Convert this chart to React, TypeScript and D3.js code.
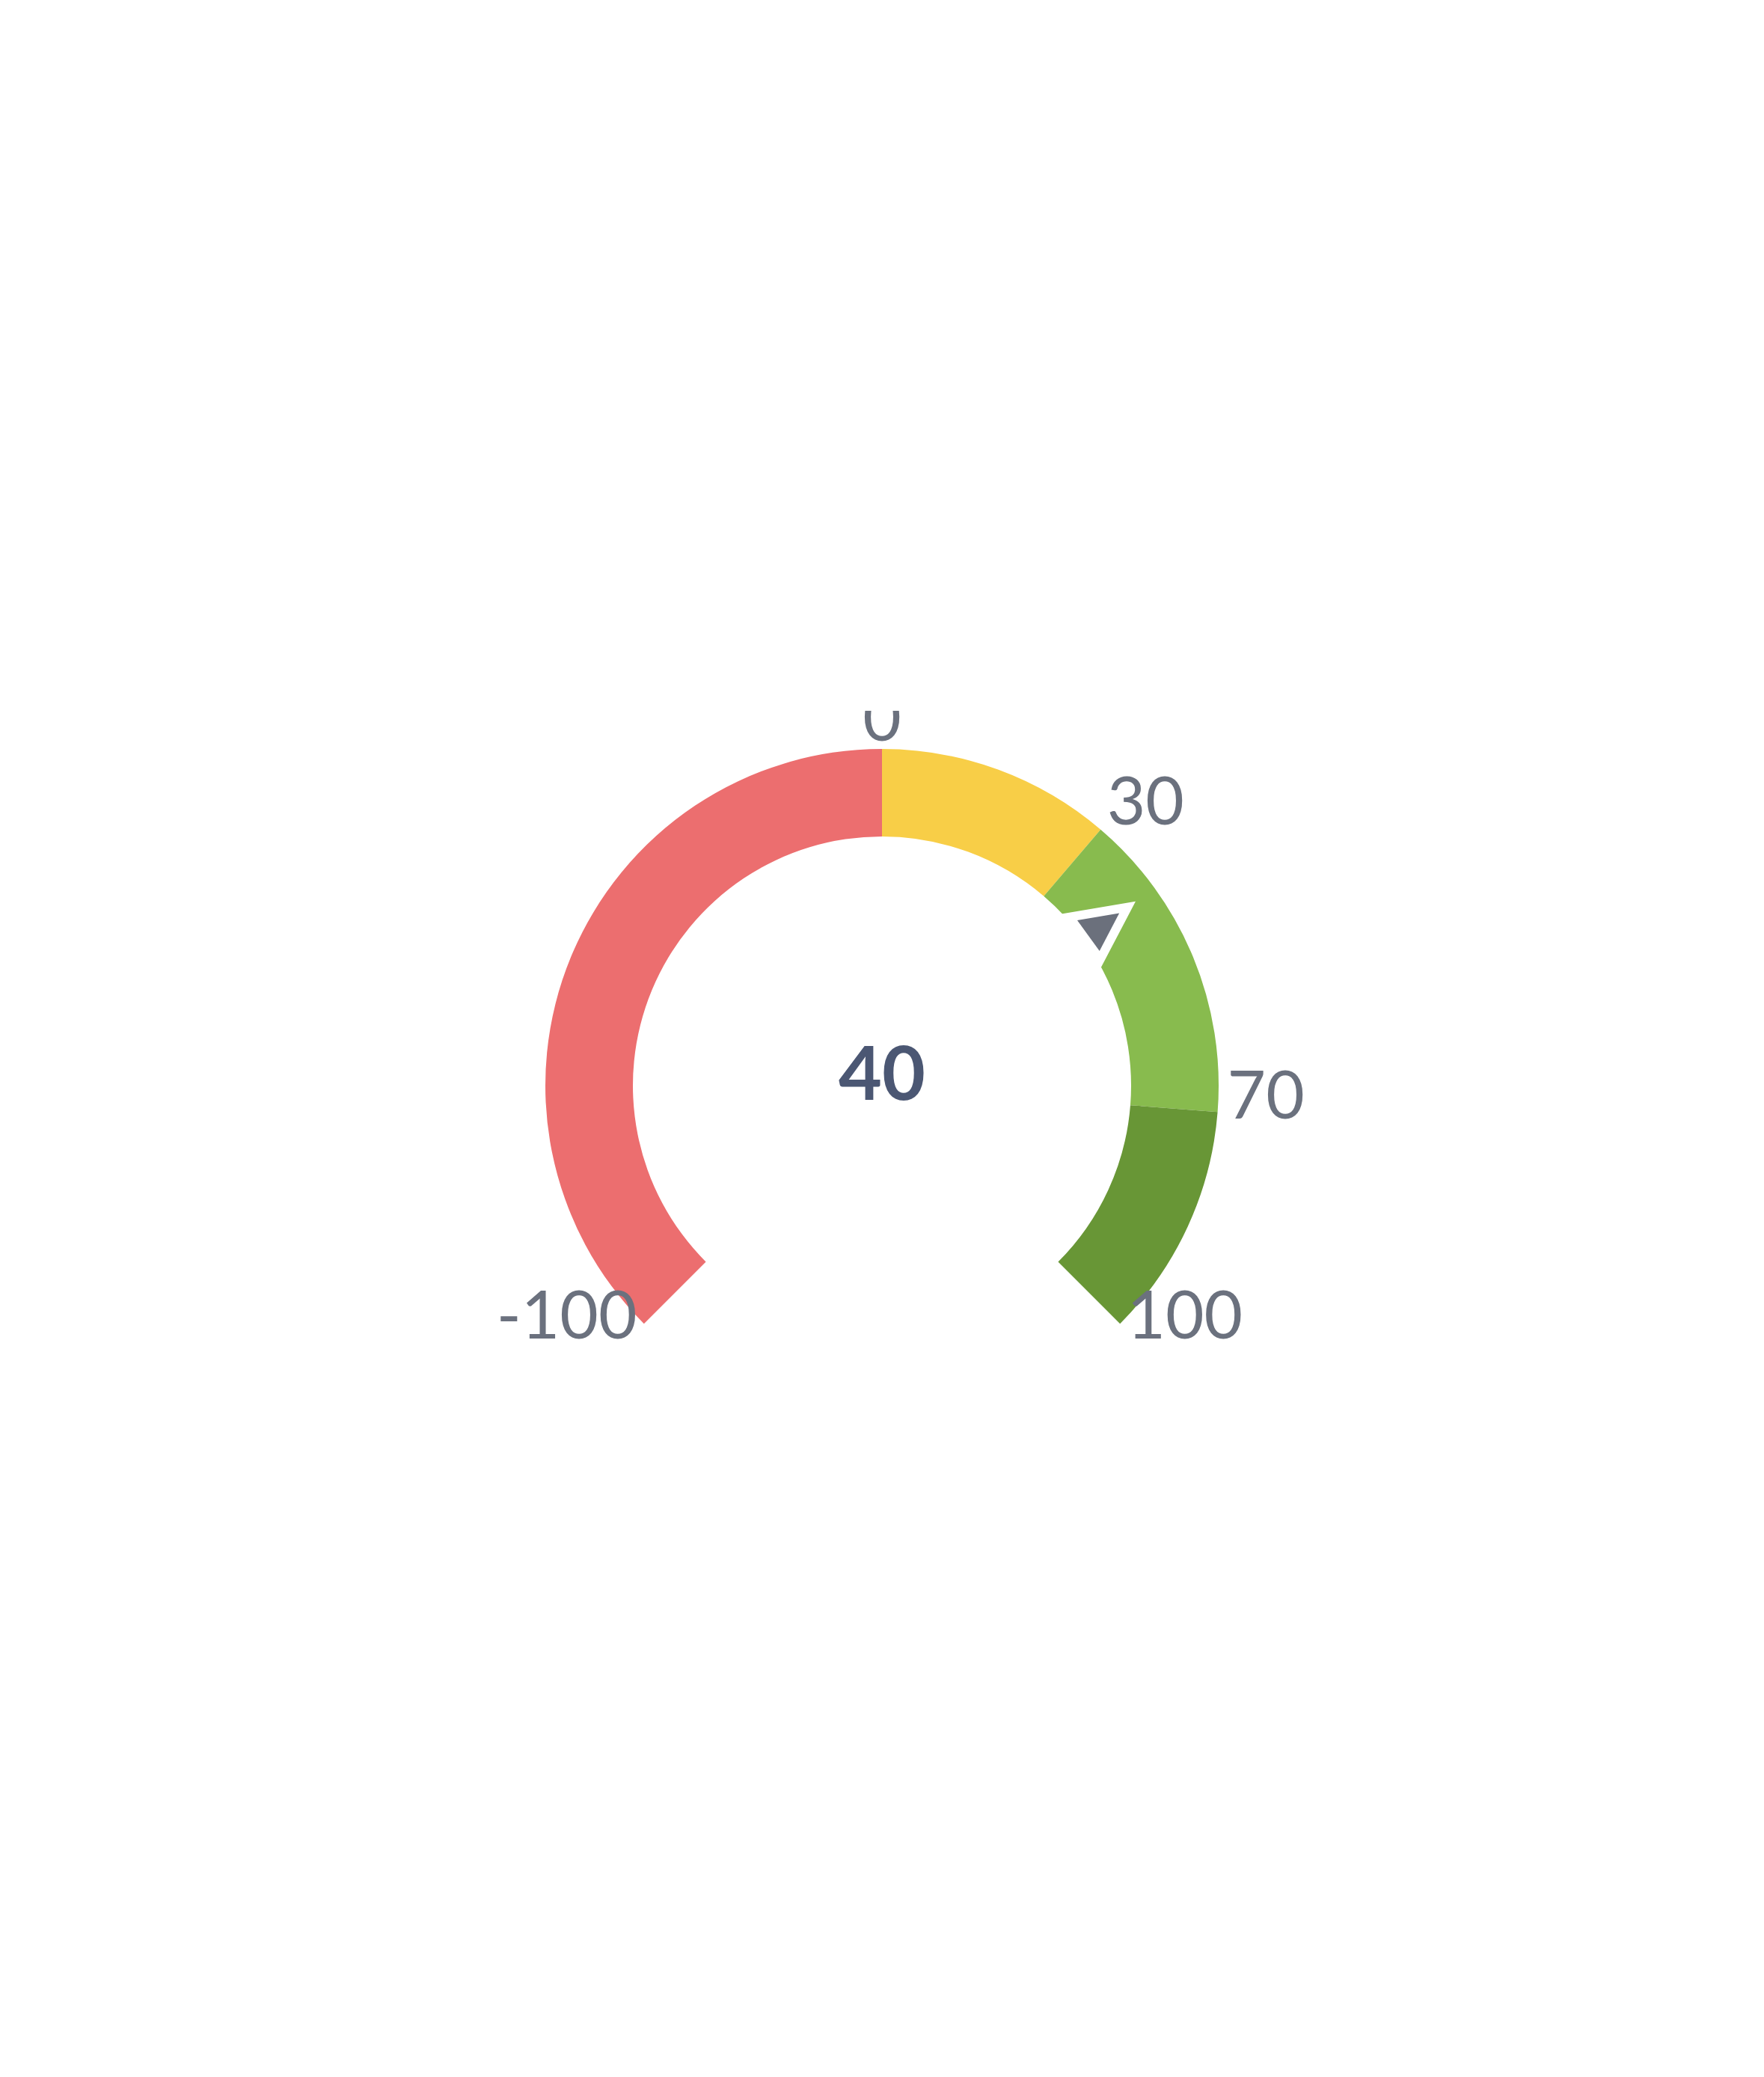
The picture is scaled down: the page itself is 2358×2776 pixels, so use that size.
import React from 'react';
import * as d3 from 'd3';

// gauge data
const bandFrom = [-100, 0, 30, 70];
const bandTo = [0, 30, 70, 100];
const tickValues = [-100, 0, 30, 70, 100];
const gaugeValue = 40;

const bandColors = ['#ec6e6f', '#f8ce47', '#88bb4e', '#689636'];

const W = 2358;
const H = 2776;
const cx = 1179;
const cy = 1451;
const outerR = 450;
const innerR = 333;

const App: React.FC = () => {
  const angle = d3.scaleLinear().domain([-100, 100]).range([-135, 135]);
  const rad = (v: number) => (angle(v) * Math.PI) / 180;

  const arc = d3.arc<any>()
    .innerRadius(innerR)
    .outerRadius(outerR)
    .startAngle((d: any) => rad(d.from))
    .endAngle((d: any) => rad(d.to));

  const bands = bandFrom.map((f, i) => ({ from: f, to: bandTo[i], color: bandColors[i] }));

  // labels sit just outside the ring
  const labelR = 463;
  const labels = tickValues.map(v => {
    const a = rad(v);
    const s = Math.sin(a);
    const c = Math.cos(a);
    return {
      v,
      x: labelR * s,
      y: -labelR * c,
      anchor: s > 0.3 ? 'start' : s < -0.3 ? 'end' : 'middle',
      dy: 7 - 5 * c,
    };
  });

  // pointer triangle, in local coordinates before rotation
  const tri = d3.line()([
    [0, -392],
    [25.3, -341],
    [-25.3, -341],
  ]) + 'Z';

  return (
    <svg width={W} height={H} style={{ position: 'absolute', left: 0, top: 0, background: '#fff' }}>
      <defs>
        <clipPath id="chartClip">
          <rect x={0} y={950} width={W} height={H - 950} />
        </clipPath>
      </defs>
      <g transform={`translate(${cx},${cy})`}>
        {bands.map((b, i) => (
          <path key={i} d={arc(b) as string} fill={b.color} />
        ))}
        <g transform={`rotate(${angle(gaugeValue)})`}>
          {/* white halo first, then the marker on top */}
          <path d={tri} fill="#ffffff" stroke="#ffffff" strokeWidth={24} strokeLinejoin="miter" />
          <path d={tri} fill="#6b707c" />
        </g>
        <text
          x={0}
          y={19}
          textAnchor="middle"
          fontFamily="Lato"
          fontWeight="bold"
          fontSize={100}
          fill="#4b5773"
        >
          {gaugeValue}
        </text>
      </g>
      <g clipPath="url(#chartClip)">
        <g transform={`translate(${cx},${cy})`}>
          {labels.map(l => (
            <text
              key={l.v}
              x={l.x}
              y={l.y}
              dy={l.dy}
              textAnchor={l.anchor}
              fontFamily="Lato"
              fontSize={89}
              fill="#6b717e"
            >
              {l.v}
            </text>
          ))}
        </g>
      </g>
    </svg>
  );
};

export default App;
